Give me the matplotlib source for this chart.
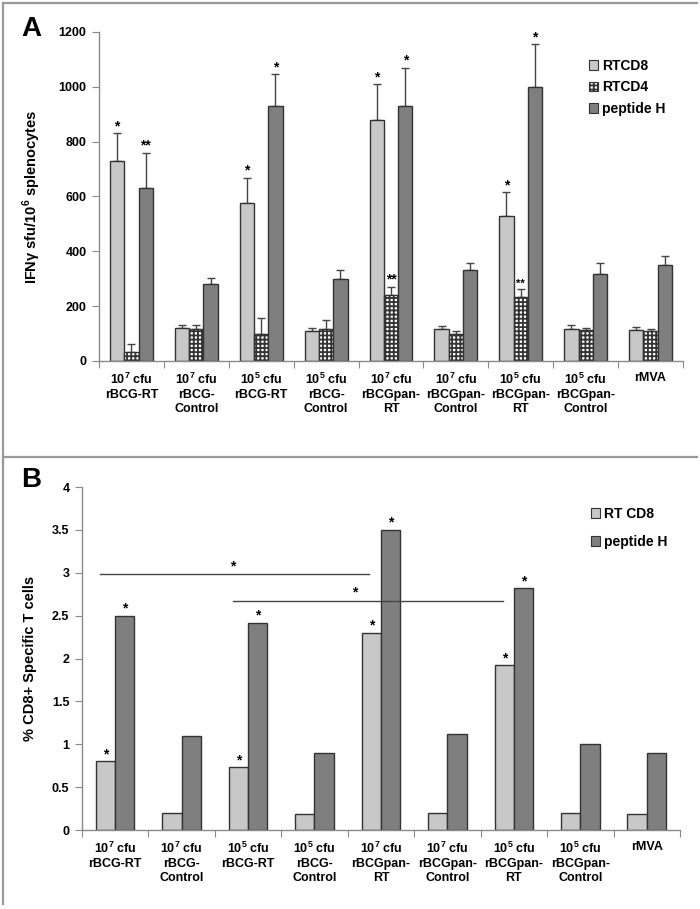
import matplotlib

matplotlib.use("Agg")
import matplotlib.pyplot as plt
import numpy as np
from matplotlib.lines import Line2D
from matplotlib.patches import Patch

plt.rcParams["font.family"] = ["Liberation Sans", "DejaVu Sans"]
plt.rcParams["font.weight"] = "bold"
plt.rcParams["mathtext.fontset"] = "custom"
plt.rcParams["mathtext.rm"] = "Liberation Sans:bold"
plt.rcParams["mathtext.bf"] = "Liberation Sans:bold"
plt.rcParams["hatch.linewidth"] = 1.3

GROUPS = [
    "10$^\\mathbf{7}$ cfu\nrBCG-RT",
    "10$^\\mathbf{7}$ cfu\nrBCG-\nControl",
    "10$^\\mathbf{5}$ cfu\nrBCG-RT",
    "10$^\\mathbf{5}$ cfu\nrBCG-\nControl",
    "10$^\\mathbf{7}$ cfu\nrBCGpan-\nRT",
    "10$^\\mathbf{7}$ cfu\nrBCGpan-\nControl",
    "10$^\\mathbf{5}$ cfu\nrBCGpan-\nRT",
    "10$^\\mathbf{5}$ cfu\nrBCGpan-\nControl",
    "rMVA",
]

# Panel A: IFNg ELISpot (mean, upper error bar top)
A_RTCD8 = [730, 120, 578, 110, 880, 115, 530, 118, 114]
A_RTCD8_ERR = [830, 130, 668, 120, 1010, 126, 616, 130, 125]
A_RTCD4 = [32, 115, 100, 118, 240, 97, 235, 112, 108]
A_RTCD4_ERR = [61, 130, 155, 150, 270, 111, 263, 119, 118]
A_PEPH = [630, 280, 930, 300, 930, 331, 1000, 318, 350]
A_PEPH_ERR = [760, 302, 1045, 332, 1070, 356, 1156, 356, 382]
A_RTCD8_SIG = ["*", "", "*", "", "*", "", "*", "", ""]
A_RTCD4_SIG = ["", "", "", "", "**", "", "**", "", ""]
A_PEPH_SIG = ["**", "", "*", "", "*", "", "*", "", ""]

# Panel B: % CD8+ specific T cells
B_RTCD8 = [0.80, 0.20, 0.73, 0.19, 2.30, 0.20, 1.92, 0.20, 0.19]
B_PEPH = [2.50, 1.10, 2.42, 0.90, 3.50, 1.12, 2.82, 1.00, 0.90]
B_RTCD8_SIG = ["*", "", "*", "", "*", "", "*", "", ""]
B_PEPH_SIG = ["*", "", "*", "", "*", "", "*", "", ""]
# comparison brackets: (x start, x end, y, star x)
B_BRACKETS = [(-0.23, 3.82, 2.98, 1.77), (1.77, 5.83, 2.67, 3.61)]

C_CD8 = "#c8c8c8"
C_PEP = "#7f7f7f"
EDGE = "#333333"
SPINE = "#8a8a8a"
TICK_FS, LABEL_FS = 9, 10.5

fig = plt.figure(figsize=(7.0, 9.09), dpi=100)

# panel frame lines
for xs, ys in [((0.004, 0.996), (0.9967, 0.9967)),
               ((0.0043, 0.0043), (0.9967, 0.006)),
               ((0.004, 0.996), (0.4972, 0.4972))]:
    fig.add_artist(Line2D(xs, ys, transform=fig.transFigure, color="#999999", lw=1.6))


def style_axes(ax, ymax, ystep):
    for s in ("top", "right"):
        ax.spines[s].set_visible(False)
    for s in ("left", "bottom"):
        ax.spines[s].set_color(SPINE)
        ax.spines[s].set_linewidth(1.0)
    n = len(GROUPS)
    ax.set_xlim(-0.5, n - 0.5)
    ax.set_ylim(0, ymax)
    ax.set_yticks(np.arange(0, ymax + ystep / 2, ystep))
    ax.set_yticklabels([f"{v:g}" for v in np.arange(0, ymax + ystep / 2, ystep)],
                       fontsize=TICK_FS, fontweight="bold")
    ax.set_xticks(np.arange(-0.5, n, 1.0))
    ax.set_xticklabels([])
    ax.set_xticks(np.arange(n), minor=True)
    ax.set_xticklabels(GROUPS, minor=True, fontsize=TICK_FS, fontweight="bold")
    ax.tick_params(axis="x", which="major", length=5, color=SPINE, direction="out")
    ax.tick_params(axis="x", which="minor", length=0, pad=8)
    ax.tick_params(axis="y", length=5, color=SPINE, direction="out", pad=4)


def stars(ax, xs, tops, labels, fs=10):
    for x, t, lab in zip(xs, tops, labels):
        if lab:
            ax.annotate(lab, (x, t), xytext=(0, 0), textcoords="offset points",
                        ha="center", va="bottom", fontsize=fs, fontweight="bold")


x = np.arange(len(GROUPS))

# ---- Panel A ----
axA = fig.add_axes([0.1414, 0.6029, 0.8343, 0.3619])
w = 0.22
specs = [
    (x - w, A_RTCD8, A_RTCD8_ERR, A_RTCD8_SIG, dict(color=C_CD8), "RTCD8"),
    (x, A_RTCD4, A_RTCD4_ERR, A_RTCD4_SIG, dict(color="white", hatch="++++"), "RTCD4"),
    (x + w, A_PEPH, A_PEPH_ERR, A_PEPH_SIG, dict(color=C_PEP), "peptide H"),
]
for xs, vals, errtop, sig, kw, lab in specs:
    vals = np.array(vals, float)
    up = np.array(errtop, float) - vals
    axA.bar(xs, vals, width=w, edgecolor=EDGE, linewidth=1.0, label=lab, zorder=2, **kw)
    axA.errorbar(xs, vals, yerr=[np.zeros_like(up), up], fmt="none", ecolor="#444444",
                 elinewidth=1.0, capsize=3, capthick=1.0, zorder=1)
    fsz = [8 if (lab == "RTCD4" and i == 6) else 10 for i in range(len(sig))]
    for xi, t, s, f in zip(xs, errtop, sig, fsz):
        stars(axA, [xi], [t], [s], fs=f)
style_axes(axA, 1200, 200)
axA.set_ylabel("IFNγ sfu/10$^\\mathbf{6}$ splenocytes", fontsize=LABEL_FS,
               fontweight="bold")
axA.yaxis.set_label_coords(-0.095, 0.5)
hA = [Patch(facecolor=C_CD8, edgecolor=EDGE, lw=0.8),
      Patch(facecolor="white", edgecolor=EDGE, hatch="++++", lw=0.8),
      Patch(facecolor=C_PEP, edgecolor=EDGE, lw=0.8)]
fig.legend(hA, ["RTCD8", "RTCD4", "peptide H"], loc="upper left",
           bbox_to_anchor=(0.823, 0.949), frameon=False,
           handlelength=0.7, handleheight=0.7, handletextpad=0.25, labelspacing=0.55,
           prop={"weight": "bold", "size": 10})
fig.text(0.03, 0.968, "A", fontsize=20, fontweight="bold", va="center")

# ---- Panel B ----
axB = fig.add_axes([0.117, 0.0869, 0.8544, 0.3773])
wb = 0.29
axB.bar(x - wb / 2, B_RTCD8, width=wb, color=C_CD8, edgecolor=EDGE, linewidth=1.0, zorder=2)
axB.bar(x + wb / 2, B_PEPH, width=wb, color=C_PEP, edgecolor=EDGE, linewidth=1.0, zorder=2)
stars(axB, x - wb / 2, B_RTCD8, B_RTCD8_SIG)
stars(axB, x + wb / 2, B_PEPH, B_PEPH_SIG)
for x0, x1, yb, xs in B_BRACKETS:
    axB.plot([x0, x1], [yb, yb], color="#444444", lw=1.0, zorder=3)
    axB.annotate("*", (xs, yb), xytext=(0, 1), textcoords="offset points",
                 ha="center", va="bottom", fontsize=10, fontweight="bold")
style_axes(axB, 4, 0.5)
axB.set_ylabel("% CD8+ Specific T cells", fontsize=LABEL_FS, fontweight="bold")
axB.yaxis.set_label_coords(-0.075, 0.5)
hB = [Patch(facecolor=C_CD8, edgecolor=EDGE, lw=0.8),
      Patch(facecolor=C_PEP, edgecolor=EDGE, lw=0.8)]
fig.legend(hB, ["RT CD8", "peptide H"], loc="upper left",
           bbox_to_anchor=(0.826, 0.456), frameon=False,
           handlelength=0.7, handleheight=0.7, handletextpad=0.25, labelspacing=1.0,
           prop={"weight": "bold", "size": 10})
fig.text(0.03, 0.472, "B", fontsize=20, fontweight="bold", va="center")

fig.savefig("out.png", dpi=100)
